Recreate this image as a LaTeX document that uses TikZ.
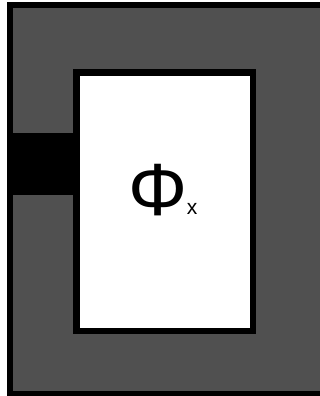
\documentclass[tikz,border=0pt]{standalone}
\usepackage{fontspec}
\setmainfont{Liberation Sans}
\definecolor{wallgray}{RGB}{80,80,80}
\begin{document}
\begin{tikzpicture}[x=1pt,y=-1pt,
  outerbox/.style={fill=wallgray,draw=black,line width=6pt},
  innerbox/.style={fill=white,draw=black,line width=6.6pt},
  plug/.style={fill=black,draw=none}]
\useasboundingbox (0,0) rectangle (320,396);
\fill[white] (0,0) rectangle (320,396);
\draw[outerbox] (9.8,5) rectangle (322.5,394);
\draw[innerbox] (76.5,72.5) rectangle (253,331);
\fill[plug] (12.7,133.3) rectangle (74,195);
\node[inner sep=0pt,font=\fontsize{74}{74}\selectfont] (phi) at (158,190) {Φ};
\node[inner sep=0pt,font=\fontsize{21}{21}\selectfont] (sub) at (192,209) {x};
\end{tikzpicture}
\end{document}
